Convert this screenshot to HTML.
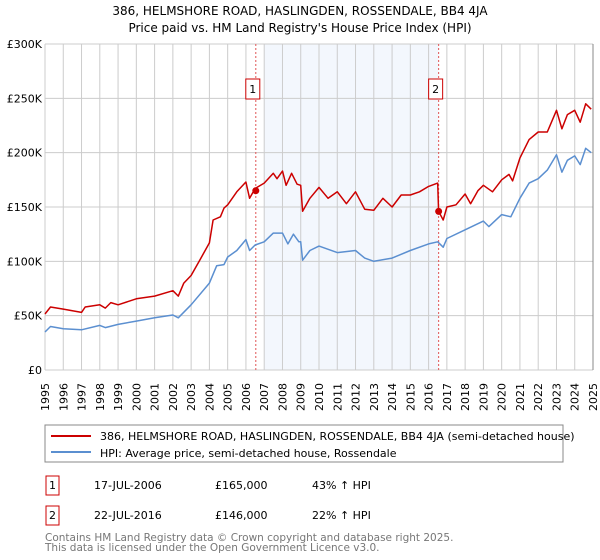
<!DOCTYPE html>
<html><head><meta charset="utf-8"><style>
body{margin:0;background:#fff;font-family:"DejaVu Sans","Liberation Sans",sans-serif;}
#c{position:absolute;left:0;top:0;}
</style></head><body>
<svg id="c" width="600" height="560" font-family="DejaVu Sans, Liberation Sans, sans-serif">
<text x="300" y="15" text-anchor="middle" font-size="12">386, HELMSHORE ROAD, HASLINGDEN, ROSSENDALE, BB4 4JA</text>
<text x="300" y="32" text-anchor="middle" font-size="12">Price paid vs. HM Land Registry's House Price Index (HPI)</text>
<g id="plot"></g>
<rect x="45" y="425" width="518" height="37" fill="#fff" stroke="#888"/>
<line x1="51" y1="436" x2="91" y2="436" stroke="#cc0000" stroke-width="2"/>
<text x="100" y="440" font-size="11">386, HELMSHORE ROAD, HASLINGDEN, ROSSENDALE, BB4 4JA (semi-detached house)</text>
<line x1="51" y1="452" x2="91" y2="452" stroke="#5b8fd0" stroke-width="2"/>
<text x="100" y="457" font-size="11">HPI: Average price, semi-detached house, Rossendale</text>
<g font-size="11">
<rect x="46" y="476" width="13" height="19" fill="#fff" stroke="#cc0000"/>
<text x="52.5" y="489" text-anchor="middle">1</text>
<text x="94" y="489">17-JUL-2006</text>
<text x="215" y="489">£165,000</text>
<text x="312" y="489">43% ↑ HPI</text>
<rect x="46" y="506" width="13" height="19" fill="#fff" stroke="#cc0000"/>
<text x="52.5" y="519" text-anchor="middle">2</text>
<text x="94" y="519">22-JUL-2016</text>
<text x="215" y="519">£146,000</text>
<text x="312" y="519">22% ↑ HPI</text>
</g>
<text x="45" y="541" font-size="10.5" fill="#777">Contains HM Land Registry data © Crown copyright and database right 2025.</text>
<text x="45" y="551" font-size="10.5" fill="#777">This data is licensed under the Open Government Licence v3.0.</text>
</svg>
<script>
const yTicks=[0,50,100,150,200,250,300];
const yTickLabels=["£0","£50K","£100K","£150K","£200K","£250K","£300K"];
const years=[1995,1996,1997,1998,1999,2000,2001,2002,2003,2004,2005,2006,2007,2008,2009,2010,2011,2012,2013,2014,2015,2016,2017,2018,2019,2020,2021,2022,2023,2024,2025];
const hpiT=[1995,1995.3,1996,1997,1998,1998.3,1999,2000,2001,2002,2002.3,2003,2004,2004.4,2004.8,2005,2005.5,2006,2006.2,2006.5,2007,2007.5,2008,2008.3,2008.6,2008.9,2009,2009.1,2009.5,2010,2011,2012,2012.5,2013,2014,2015,2016,2016.5,2016.8,2017,2018,2019,2019.3,2020,2020.5,2021,2021.5,2022,2022.5,2023,2023.3,2023.6,2024,2024.3,2024.6,2024.9];
const hpiV=[35,40,38,37,41,39,42,45,48,50.6,48,60,80,96,97,104,110,120,110,115,118,126,126,116,125,118,118,101,110,114,108,110,103,100,103,110,116,118,113,121,129,137,132,143,141,158,172,176,184,198,182,193,197,189,204,200];
const priceT=[1995,1995.3,1996,1997,1997.2,1998,1998.3,1998.6,1999,2000,2001,2002,2002.3,2002.6,2003,2003.5,2004,2004.2,2004.6,2004.8,2005,2005.5,2006,2006.2,2006.5,2007,2007.5,2007.7,2008,2008.2,2008.5,2008.8,2009,2009.1,2009.5,2010,2010.5,2011,2011.5,2012,2012.5,2013,2013.5,2014,2014.5,2015,2015.5,2016,2016.5,2016.55,2016.8,2017,2017.5,2018,2018.3,2018.7,2019,2019.5,2020,2020.4,2020.6,2021,2021.5,2022,2022.5,2023,2023.3,2023.6,2024,2024.3,2024.6,2024.9];
const priceV=[51.5,58,56,53,58,60,57,62,60,65.5,68,73,68,80,87,102,117,138,141,149,152,164,173,158,167,172,181,176,183,170,181,171,170,146,158,168,158,164,153,164,148,147,158,150,161,161,164,169,172,146,138,150,152,162,153,165,170,164,175,180,174,195,212,219,219,239,222,235,239,228,245,240];
const saleT=[2006.54,2016.55];
const saleV=[165,146];
const saleLabels=["1","2"];

const X0=45,X1=593,Y0=370,Y1=44;
const sx=t=>X0+(t-1995)/30*(X1-X0);
const sy=v=>Y0-v/300*(Y0-Y1);
const NS="http://www.w3.org/2000/svg";
const g=document.getElementById('plot');
function mk(tag,attrs){const e=document.createElementNS(NS,tag);for(const k in attrs)e.setAttribute(k,attrs[k]);g.appendChild(e);return e;}

let e=mk('rect',{x:sx(2007),y:Y1,width:sx(saleT[1])-sx(2007),height:Y0-Y1,fill:'#eef3fc',opacity:0.7});



years.forEach(y=>{
 let l=mk('line',{x1:sx(y),x2:sx(y),y1:Y1,y2:Y0,stroke:'#ccc','stroke-width':1});
 
 
 let t=mk('text',{x:0,y:0,'font-size':11,'text-anchor':'end',transform:`translate(${sx(y)+4},${Y0+13}) rotate(-90)`});
 t.textContent=y;
 
 
});
yTicks.forEach((v,i)=>{
 let l=mk('line',{x1:X0,x2:X1,y1:sy(v),y2:sy(v),stroke:'#ccc','stroke-width':1});
 
 
 let t=mk('text',{x:X0-3,y:sy(v)+4,'font-size':11,'text-anchor':'end'});
 t.textContent=yTickLabels[i];
 
 
});
let ax=mk('line',{x1:X1,x2:X1,y1:Y1,y2:Y0,stroke:'#888','stroke-width':1});



saleT.forEach((t,i)=>{
 let l=mk('line',{x1:sx(t),x2:sx(t),y1:Y1,y2:Y0,stroke:'#e05555','stroke-width':1,'stroke-dasharray':'2,2'});
 
 
 let r=mk('rect',{x:sx(t)-10,y:79,width:14,height:20,fill:'#fff',stroke:'#cc0000'});
 
 
 let tx=mk('text',{x:sx(t)-3,y:93,'font-size':11,'text-anchor':'middle'});
 tx.textContent=saleLabels[i];
 
 
});

function line(T,V,color,name){
 const p=mk('path',{d:T.map((t,i)=>(i?'L':'M')+sx(t).toFixed(1)+','+sy(V[i]).toFixed(1)).join(''),fill:'none',stroke:color,'stroke-width':1.5,'stroke-linejoin':'round'});
 
 
}
line(hpiT,hpiV,'#5b8fd0','hpi-line');
line(priceT,priceV,'#cc0000','price-line');
saleT.forEach((t,i)=>{
 let c=mk('circle',{cx:sx(t),cy:sy(saleV[i]),r:3.5,fill:'#cc0000'});
 
 
});
</script>
</body></html>
